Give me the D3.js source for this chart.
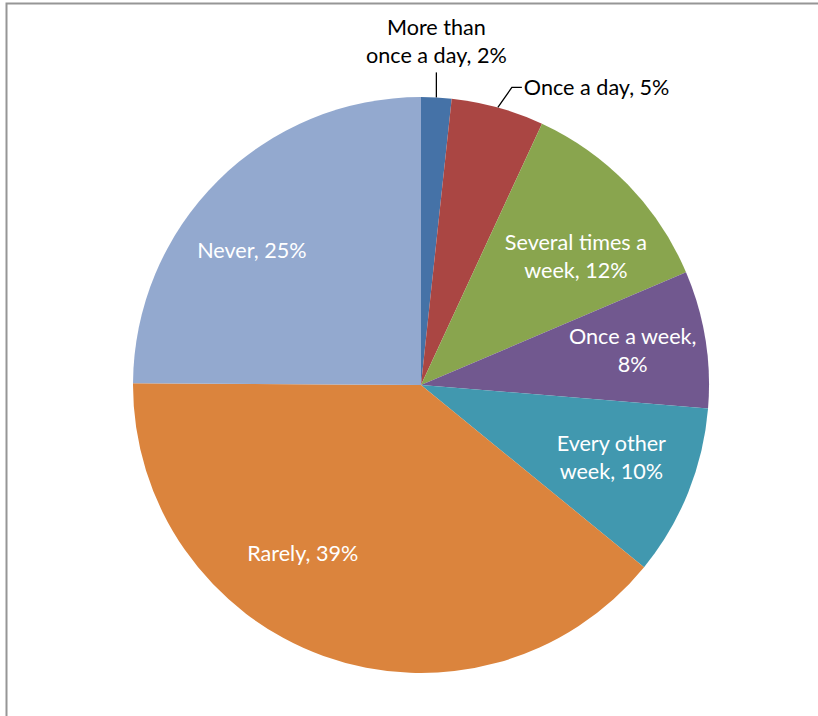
<!DOCTYPE html>
<html>
<head>
<meta charset="utf-8">
<script src="https://cdn.jsdelivr.net/npm/d3@7"></script>
<style>
  html, body { margin: 0; padding: 0; background: #fff; }
  svg { display: block; }
</style>
</head>
<body>
<svg id="chart" width="818" height="716"></svg>
<script>
// ---- data ----
const categories = ["More than once a day", "Once a day", "Several times a week", "Once a week", "Every other week", "Rarely", "Never"];
const values = [1.7, 5.2, 11.7, 7.7, 9.6, 39.2, 24.9];
const percentLabels = ["2%", "5%", "12%", "8%", "10%", "39%", "25%"];
const colors = ["#4572A7", "#AA4643", "#89A54E", "#71588F", "#4198AF", "#DB843D", "#93A9CF"];
// label text lines (as shown in the chart)
const labelLines = [
  ["More than", "once a day, 2%"],
  ["Once a day, 5%"],
  ["Several times a", "week, 12%"],
  ["Once a week,", "8%"],
  ["Every other", "week, 10%"],
  ["Rarely, 39%"],
  ["Never, 25%"]
];

// ---- layout ----
const W = 818, H = 716;
const cx = 421, cy = 385, R = 288;
const fontFamily = "Lato, 'Open Sans', sans-serif";
const fontSize = 21.6;
const lineH = 28;

const svg = d3.select("#chart");

// frame border
svg.append("path")
  .attr("d", `M6.5,${H} L6.5,3.5 L${W},3.5`)
  .attr("fill", "none")
  .attr("stroke", "#969696")
  .attr("stroke-width", 2);

const g = svg.append("g").attr("transform", `translate(${cx},${cy})`);

const pie = d3.pie().sort(null).value(d => d.v).startAngle(0).endAngle(2 * Math.PI);
const data = categories.map((c, i) => ({ c, v: values[i], i }));
const arcs = pie(data);

const arc = d3.arc().innerRadius(0).outerRadius(R);
const labelArc = d3.arc().innerRadius(R * 0.72).outerRadius(R * 0.72);

g.selectAll("path.slice")
  .data(arcs)
  .join("path")
  .attr("class", "slice")
  .attr("d", arc)
  .attr("fill", (d, i) => colors[i]);

// inside labels: nudges from label-arc centroid
const insideNudge = { 2: [6, 16], 3: [7, -1], 4: [-2, -5], 5: [-48, -27], 6: [-23, 13] };

arcs.forEach((d, i) => {
  if (!(i in insideNudge)) return;
  const [x0, y0] = labelArc.centroid(d);
  const [nx, ny] = insideNudge[i];
  const lines = labelLines[i];
  const x = x0 + nx, y = y0 + ny;
  const t = g.append("text")
    .attr("text-anchor", "middle")
    .attr("font-family", fontFamily)
    .attr("font-size", fontSize)
    .attr("fill", "#ffffff");
  const firstBase = y - (lines.length - 1) * lineH / 2 + 7.5;
  lines.forEach((ln, k) => {
    t.append("tspan").attr("x", x).attr("y", firstBase + k * lineH).text(ln);
  });
});

// outside labels with leader lines
function midPoint(d, r) {
  const a = (d.startAngle + d.endAngle) / 2;
  return [Math.sin(a) * r, -Math.cos(a) * r];
}
// slice 0: vertical leader
{
  const d = arcs[0];
  const p0 = midPoint(d, R);
  const p1 = [p0[0], p0[1] - 25];
  g.append("path")
    .attr("d", d3.line()([p0, p1]))
    .attr("fill", "none").attr("stroke", "#000").attr("stroke-width", 1.3);
  const t = g.append("text")
    .attr("text-anchor", "middle")
    .attr("font-family", fontFamily)
    .attr("font-size", fontSize)
    .attr("fill", "#000");
  labelLines[0].forEach((ln, k) => {
    t.append("tspan").attr("x", p1[0]).attr("y", p1[1] - 37 + k * lineH).text(ln);
  });
}
// slice 1: elbow leader
{
  const d = arcs[1];
  const p0 = midPoint(d, R);
  const p1 = [p0[0] + 14, p0[1] - 20];
  const p2 = [p1[0] + 10, p1[1]];
  g.append("path")
    .attr("d", d3.line()([p0, p1, p2]))
    .attr("fill", "none").attr("stroke", "#000").attr("stroke-width", 1.3);
  g.append("text")
    .attr("x", p2[0] + 2).attr("y", p2[1] + 7.5)
    .attr("font-family", fontFamily)
    .attr("font-size", fontSize)
    .attr("fill", "#000")
    .text(labelLines[1][0]);
}
</script>
</body>
</html>
